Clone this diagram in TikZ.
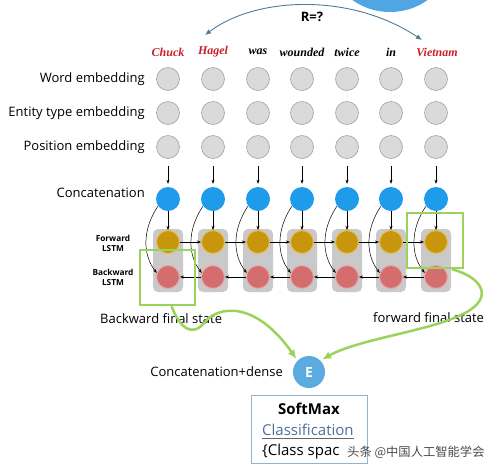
\documentclass[tikz,border=0pt]{standalone}
\usepackage{fontspec}
\setmainfont{Open Sans}
\newfontfamily\wordfont{Liberation Serif}
\newfontfamily\cjkfont{Noto Sans CJK SC}
\usetikzlibrary{arrows.meta,calc}
\definecolor{embgray}{HTML}{DADADA}
\definecolor{embline}{HTML}{A3A3A3}
\definecolor{catblue}{HTML}{1E9BEA}
\definecolor{fwfill}{HTML}{C8960C}
\definecolor{fwline}{HTML}{E3BE5A}
\definecolor{bwfill}{HTML}{D46E6E}
\definecolor{bwline}{HTML}{E6A8A8}
\definecolor{boxgray}{HTML}{C9C9C9}
\definecolor{hlgreen}{HTML}{9BD35A}
\definecolor{arcblue}{HTML}{4E7C94}
\definecolor{eblue}{HTML}{5BAAE0}
\definecolor{topblue}{HTML}{4FA6E2}
\definecolor{wordred}{HTML}{C8202A}
\definecolor{smline}{HTML}{8EB4D4}
\definecolor{clsblue}{HTML}{4E6E9A}
\begin{document}
\begin{tikzpicture}[x=1pt,y=-1pt,
  emb/.style={circle,minimum size=23pt,inner sep=0pt,fill=embgray,draw=embline,line width=0.6pt},
  catc/.style={circle,minimum size=24pt,inner sep=0pt,fill=catblue},
  fwc/.style={circle,minimum size=23pt,inner sep=0pt,fill=fwfill,draw=fwline,line width=1pt},
  bwc/.style={circle,minimum size=23pt,inner sep=0pt,fill=bwfill,draw=bwline,line width=1pt},
  lstmbox/.style={rectangle,rounded corners=5pt,fill=boxgray,minimum width=30pt,minimum height=63pt,inner sep=0pt},
  word/.style={font=\wordfont\bfseries\itshape\fontsize{12}{14}\selectfont,inner sep=0pt},
  lbl/.style={font=\fontsize{13}{15}\selectfont,anchor=east,inner sep=0pt},
  slbl/.style={font=\bfseries\fontsize{8.3}{10}\selectfont,align=center,inner sep=0pt},
  arr/.style={-{Stealth[length=4pt,width=3pt]},line width=0.5pt,black},
  gbox/.style={rectangle,draw=hlgreen,line width=2.5pt,inner sep=0pt},
  garr/.style={-{Latex[length=9pt,width=8pt]},draw=hlgreen,line width=2.5pt,shorten >=2pt},
  harr/.style={{Latex[length=6pt,width=5pt]}-{Latex[length=6pt,width=5pt]},draw=arcblue,line width=0.9pt}
]
\useasboundingbox (0,0) rectangle (497,469);

% top right partial circle
\fill[topblue] (390,-53) circle (65);

% words
\node[word,text=wordred] (w1) at (168,52) {Chuck};
\node[word,text=wordred] (w2) at (213,52) {Hagel};
\node[word] (w3) at (258,52) {was};
\node[word] (w4) at (302,52) {wounded};
\node[word] (w5) at (347,52) {twice};
\node[word] (w6) at (391,52) {in};
\node[word,text=wordred] (w7) at (437,52) {Vietnam};

% relation arc
\coordinate (arcL) at (205,35);
\coordinate (arcR) at (422,40);
\draw[harr] (arcL) .. controls (255,-3) and (350,-8) .. (arcR);
\node[font=\bfseries\fontsize{13}{15}\selectfont,inner sep=0pt] (rq) at (312,17) {R=?};

% left labels
\node[lbl] (lw) at (145,79) {Word embedding};
\node[lbl] (le) at (145,113) {Entity type embedding};
\node[lbl] (lp) at (145,147) {Position embedding};
\node[lbl] (lc) at (145,193) {Concatenation};
\node[slbl] (lf) at (113,243) {Forward\\LSTM};
\node[slbl] (lb) at (113,277.5) {Backward\\LSTM};

% columns
\foreach \i/\x in {1/168,2/213,3/258,4/302,5/347,6/391,7/436}{
  \node[emb] (we\i) at (\x,79) {};
  \node[emb] (te\i) at (\x,113) {};
  \node[emb] (pe\i) at (\x,147) {};
  \node[catc] (cat\i) at (\x,199) {};
  \node[lstmbox] (box\i) at (\x,260.5) {};
  \node[fwc] (fw\i) at (\x,242) {};
  \node[bwc] (bw\i) at (\x,277) {};
  \draw[arr,shorten <=7pt,shorten >=3pt] (pe\i) -- (cat\i);
  \draw[arr] (cat\i) -- (fw\i);
  \draw[arr] (cat\i.215) .. controls +(-16,24) and +(-14,-18) .. (bw\i.160);
}
\foreach \i [evaluate=\i as \j using int(\i+1)] in {1,...,6}{
  \draw[arr] (fw\i) -- (fw\j);
  \draw[arr] (bw\j) -- (bw\i);
}

% green highlight boxes
\node[gbox,minimum width=55pt,minimum height=55pt] (gL) at (167.5,277.5) {};
\node[gbox,minimum width=56pt,minimum height=55pt] (gR) at (435,240.5) {};

\node[font=\fontsize{13}{15}\selectfont,anchor=west,inner sep=0pt] (bfs) at (100,319) {Backward final state};
\node[font=\fontsize{13}{15}\selectfont,anchor=west,inner sep=0pt] (ffs) at (373,318) {forward final state};

% E node
\node[circle,fill=eblue,minimum size=32pt,inner sep=0pt,text=white,font=\bfseries\fontsize{14}{16}\selectfont] (E) at (309,372) {E};
\node[lbl] (cd) at (283,372) {Concatenation+dense};

% green connectors
\draw[garr] ([xshift=4pt]gL.south) .. controls (180,328) and (192,338) .. (205,322)
  .. controls (218,306) and (255,300) .. (E.135);
\draw[garr] ([xshift=17pt]gR.south) .. controls (478,276) and (494,294) .. (470,310)
  .. controls (440,330) and (360,338) .. (E.45);

% softmax box
\node[rectangle,draw=smline,line width=1pt,minimum width=116pt,minimum height=68pt,inner sep=0pt] (sm) at (309,429) {};
\node[font=\bfseries\fontsize{15}{17}\selectfont,inner sep=0pt] (smt) at (309,409) {SoftMax};
\node[font=\fontsize{15}{17}\selectfont,text=clsblue,anchor=west,inner sep=0pt] (cls) at (262,430) {Classification};
\draw[line width=0.6pt,black!60] ($(cls.south west)+(0,2)$) coordinate (ulA) -- ($(cls.south east)+(0,2)$) coordinate (ulB);
\node[font=\fontsize{15}{17}\selectfont,anchor=west,inner sep=0pt] (csp) at (262,452) {\{Class spac};
\node[font=\cjkfont\fontsize{12.3}{14}\selectfont,text=black!70,anchor=west,inner sep=0pt] (wm) at (347,452) {头条 @中国人工智能学会};
\end{tikzpicture}
\end{document}
